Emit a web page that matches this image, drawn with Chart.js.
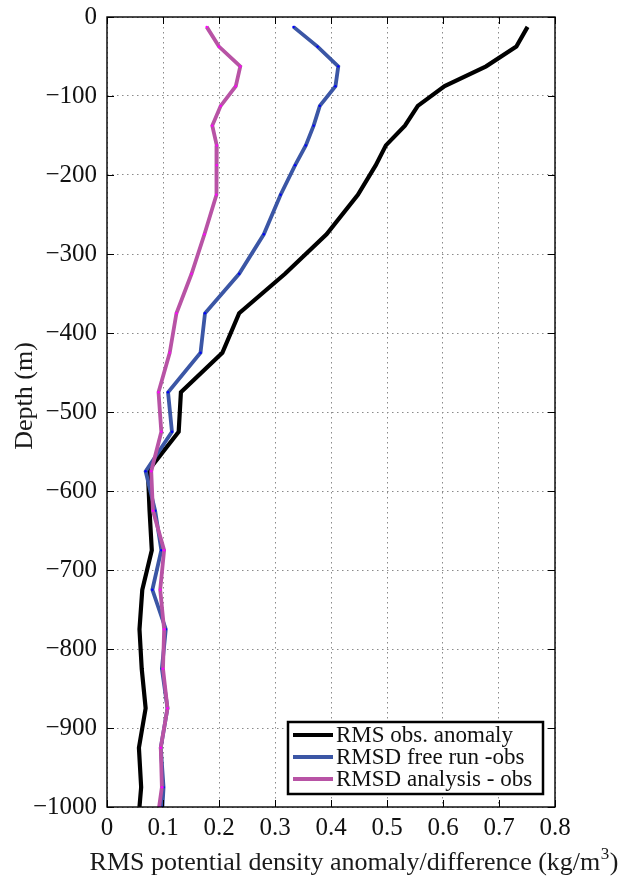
<!DOCTYPE html>
<html>
<head>
<meta charset="utf-8">
<script src="https://cdn.jsdelivr.net/npm/chart.js@4/dist/chart.umd.min.js"></script>
<style>
  html, body { margin: 0; padding: 0; background: #fff; }
  canvas { display: block; }
</style>
</head>
<body>
<canvas id="depthChart" width="625" height="881"></canvas>
<script>
// depth of each sample (m, negative down)
const depths = [-12.5, -37.5, -62.5, -87.5, -112.5, -137.5, -162.5, -187.5, -225, -275,
  -325, -375, -425, -475, -525, -575, -625, -675, -725, -775, -825, -875, -925, -975, -1000];

// RMS values (kg/m3)
const rmsObs = [0.751, 0.731, 0.677, 0.603, 0.555, 0.532, 0.498, 0.480, 0.448, 0.392,
  0.318, 0.236, 0.206, 0.132, 0.128, 0.073, 0.076, 0.080, 0.063, 0.058, 0.062, 0.069, 0.057, 0.061, 0.058];
const rmsdFree = [0.333, 0.376, 0.413, 0.408, 0.380, 0.369, 0.355, 0.336, 0.310, 0.280,
  0.236, 0.175, 0.167, 0.109, 0.116, 0.069, 0.086, 0.097, 0.081, 0.105, 0.098, 0.108, 0.096, 0.101, 0.099];
const rmsdAna = [0.178, 0.200, 0.238, 0.230, 0.203, 0.188, 0.196, 0.196, 0.195, 0.174,
  0.151, 0.124, 0.112, 0.092, 0.097, 0.079, 0.082, 0.102, 0.095, 0.102, 0.100, 0.108, 0.096, 0.098, 0.093];

const seriesNames = ['RMS obs. anomaly', 'RMSD free run -obs', 'RMSD analysis - obs'];
const seriesColors = ['#000000', '#3b56a5', '#b853a5'];
const xTitle = 'RMS potential density anomaly/difference (kg/m';
const yTitle = 'Depth (m)';

const serif = '"Liberation Serif", "DejaVu Serif", serif';
Chart.defaults.font.family = serif;
Chart.defaults.color = '#111';

function toPoints(vals) {
  return depths.map((d, i) => ({ x: vals[i], y: d }));
}

// ticks inside the box, frame, axis titles and legend box
const extras = {
  id: 'extras',
  afterDraw(chart) {
    const { ctx, chartArea: a, scales: { x, y } } = chart;
    ctx.save();
    ctx.strokeStyle = '#000';
    ctx.lineWidth = 1;
    const tl = 7;
    x.ticks.forEach(t => {
      const px = Math.round(x.getPixelForValue(t.value)) + 0.5;
      ctx.beginPath();
      ctx.moveTo(px, a.bottom); ctx.lineTo(px, a.bottom - tl);
      ctx.moveTo(px, a.top); ctx.lineTo(px, a.top + tl);
      ctx.stroke();
    });
    y.ticks.forEach(t => {
      const py = Math.round(y.getPixelForValue(t.value)) + 0.5;
      ctx.beginPath();
      ctx.moveTo(a.left, py); ctx.lineTo(a.left + tl, py);
      ctx.moveTo(a.right, py); ctx.lineTo(a.right - tl, py);
      ctx.stroke();
    });
    ctx.lineWidth = 1.4;
    ctx.strokeRect(a.left, a.top, a.right - a.left, a.bottom - a.top);

    // x axis title
    ctx.fillStyle = '#1a1a1a';
    ctx.textBaseline = 'alphabetic';
    ctx.textAlign = 'left';
    const mainFont = '26px ' + serif, supFont = '17px ' + serif;
    ctx.font = mainFont;
    const w1 = ctx.measureText(xTitle).width;
    const w3 = ctx.measureText(')').width;
    ctx.font = supFont;
    const w2 = ctx.measureText('3').width + 1;
    const total = w1 + w2 + w3;
    let tx = 354 - total / 2;
    const base = 870;
    ctx.font = mainFont;
    ctx.fillText(xTitle, tx, base);
    ctx.font = supFont;
    ctx.fillText('3', tx + w1 + 0.5, base - 11);
    ctx.font = mainFont;
    ctx.fillText(')', tx + w1 + w2, base);

    // y axis title
    ctx.save();
    ctx.translate(25, 396);
    ctx.rotate(-Math.PI / 2);
    ctx.textAlign = 'center';
    ctx.textBaseline = 'middle';
    ctx.font = mainFont;
    ctx.fillText(yTitle, 0, 0);
    ctx.restore();

    // legend
    const bx = 288, by = 722, bw = 255, bh = 72;
    ctx.fillStyle = '#fff';
    ctx.fillRect(bx, by, bw, bh);
    ctx.lineWidth = 2.5;
    ctx.strokeStyle = '#000';
    ctx.strokeRect(bx, by, bw, bh);
    ctx.font = '23px ' + serif;
    ctx.textBaseline = 'middle';
    seriesNames.forEach((name, i) => {
      const ly = by + 13 + i * 22;
      ctx.strokeStyle = seriesColors[i];
      ctx.lineWidth = 3.8;
      ctx.beginPath();
      ctx.moveTo(bx + 5, ly); ctx.lineTo(bx + 45, ly);
      ctx.stroke();
      ctx.fillStyle = '#111';
      ctx.fillText(name, bx + 48, ly + 1);
    });
    ctx.restore();
  }
};

const ctx = document.getElementById('depthChart');

new Chart(ctx, {
  type: 'scatter',
  data: {
    datasets: [
      {
        label: seriesNames[0],
        data: toPoints(rmsObs),
        showLine: true,
        borderColor: seriesColors[0],
        borderWidth: 4.2,
        pointRadius: 0,
        order: 3,
      },
      {
        label: seriesNames[1],
        data: toPoints(rmsdFree),
        showLine: true,
        borderColor: seriesColors[1],
        borderWidth: 3.8,
        pointRadius: 1.2,
        pointBorderWidth: 0,
        pointBackgroundColor: '#0000ff',
        order: 2,
      },
      {
        label: seriesNames[2],
        data: toPoints(rmsdAna),
        showLine: true,
        borderColor: seriesColors[2],
        borderWidth: 3.8,
        pointRadius: 1.2,
        pointBorderWidth: 0,
        pointBackgroundColor: '#ff00ff',
        order: 1,
      },
    ],
  },
  options: {
    responsive: false,
    animation: false,
    layout: { padding: { top: 17, right: 70, bottom: 0, left: 0 } },
    plugins: {
      legend: { display: false },
      tooltip: { enabled: false },
    },
    scales: {
      x: {
        type: 'linear',
        min: 0,
        max: 0.8,
        afterFit: s => { s.height = 74; s.paddingLeft = 0; s.paddingRight = 0; },
        ticks: {
          stepSize: 0.1,
          padding: 6,
          color: '#111',
          font: { size: 25 },
          callback: v => (Math.abs(v) < 1e-9 ? '0' : v.toFixed(1)),
        },
        grid: { color: '#8a8a8a', lineWidth: 1, drawTicks: false },
        border: { display: false, dash: [1.5, 3.5] },
      },
      y: {
        type: 'linear',
        min: -1000,
        max: 0,
        afterFit: s => { s.width = 107; s.paddingTop = 0; s.paddingBottom = 0; },
        ticks: {
          stepSize: 100,
          padding: 10,
          color: '#111',
          font: { size: 25 },
          callback: v => (v === 0 ? '0' : '\u2212' + Math.abs(v)),
        },
        grid: { color: '#8a8a8a', lineWidth: 1, drawTicks: false },
        border: { display: false, dash: [1.5, 3.5] },
      },
    },
  },
  plugins: [extras],
});
</script>
</body>
</html>
